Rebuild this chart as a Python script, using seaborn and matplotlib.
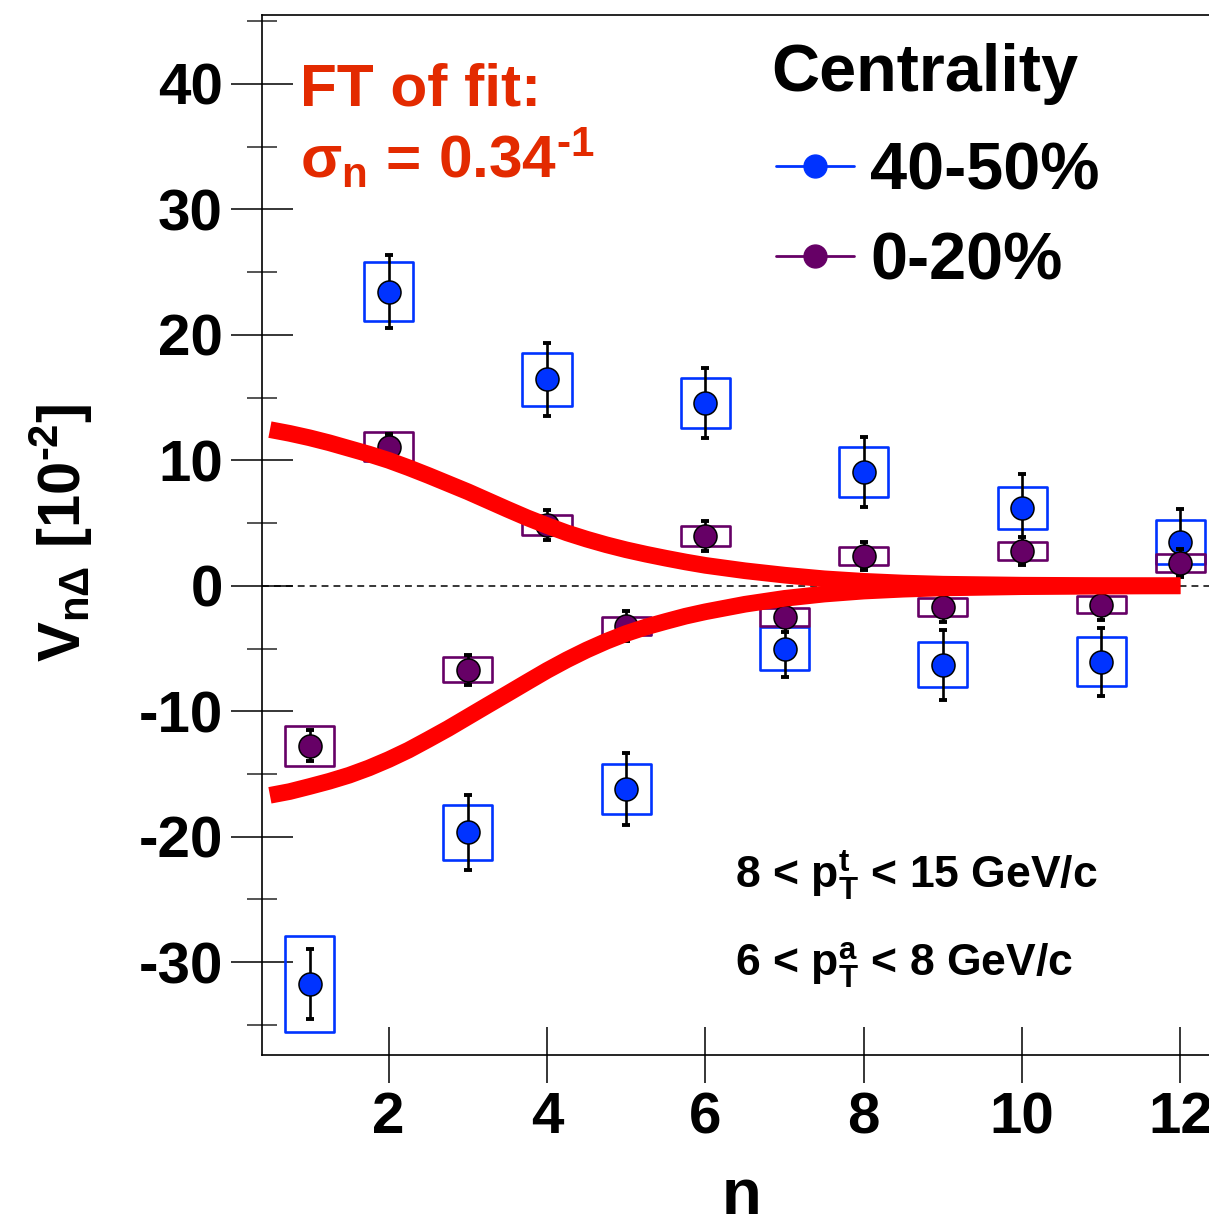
import matplotlib
matplotlib.use("Agg")
import matplotlib.pyplot as plt
import seaborn as sns
from matplotlib.patches import Rectangle
from matplotlib.lines import Line2D
from matplotlib.ticker import FixedLocator

# ---------------- data ----------------
n_values = [1, 2, 3, 4, 5, 6, 7, 8, 9, 10, 11, 12]

v_40_50 = [-31.75, 23.45, -19.66, 16.46, -16.2, 14.56, -5.0, 9.06, -6.3, 6.2, -6.05, 3.5]
stat_40_50 = [2.8, 2.9, 3.0, 2.9, 2.9, 2.8, 2.3, 2.8, 2.8, 2.7, 2.7, 2.6]
sys_40_50 = [3.8, 2.35, 2.2, 2.1, 2.0, 2.0, 1.75, 2.0, 1.8, 1.7, 1.95, 1.75]

v_0_20 = [-12.75, 11.1, -6.7, 4.85, -3.2, 3.98, -2.5, 2.38, -1.67, 2.78, -1.5, 1.82]
stat_0_20 = [1.25, 1.0, 1.2, 1.2, 1.2, 1.2, 1.2, 1.15, 1.2, 1.15, 1.2, 1.15]
sys_0_20 = [1.6, 1.15, 1.0, 0.8, 0.75, 0.8, 0.7, 0.7, 0.7, 0.75, 0.7, 0.7]

fit_n = [0.5, 0.75, 1.0, 1.25, 1.5, 1.75, 2.0, 2.25, 2.5, 2.75, 3.0, 3.25, 3.5, 3.75,
         4.0, 4.25, 4.5, 4.75, 5.0, 5.25, 5.5, 5.75, 6.0, 6.5, 7.0, 7.5, 8.0, 8.5,
         9.0, 10.0, 11.0, 12.0]
fit_upper = [12.45, 12.15, 11.8, 11.4, 10.95, 10.5, 10.0, 9.42, 8.8, 8.15, 7.5, 6.8,
             6.1, 5.42, 4.8, 4.22, 3.72, 3.27, 2.87, 2.52, 2.2, 1.9, 1.63, 1.2, 0.85,
             0.56, 0.36, 0.22, 0.13, 0.05, 0.02, 0.0]
fit_lower = [-16.7, -16.4, -16.0, -15.58, -15.1, -14.52, -13.85, -13.1, -12.25, -11.38,
             -10.45, -9.52, -8.6, -7.67, -6.75, -5.9, -5.12, -4.42, -3.8, -3.28, -2.84,
             -2.42, -2.07, -1.47, -1.0, -0.66, -0.42, -0.27, -0.17, -0.07, -0.03, 0.0]

x_ticks = [2, 4, 6, 8, 10, 12]
y_ticks = [-30, -20, -10, 0, 10, 20, 30, 40]
y_minor = [-35, -25, -15, -5, 5, 15, 25, 35, 45]

series_labels = ["40-50%", "0-20%"]
blue = "#0033ff"
purple = "#660066"
red_line = "#ff0000"
red_text = "#e32a00"
HY = "\u2010"  # short hyphen used in exponents

# ---------------- style ----------------
sns.set_theme(style="ticks")
plt.rcParams["font.family"] = ["Liberation Sans", "DejaVu Sans"]
plt.rcParams.update({
    "font.weight": "bold",
    "axes.unicode_minus": False,
    "mathtext.fontset": "custom",
    "mathtext.rm": "Liberation Sans:bold",
    "mathtext.it": "Liberation Sans:bold",
    "mathtext.bf": "Liberation Sans:bold",
    "mathtext.sf": "Liberation Sans:bold",
})

W, H = 1209, 1220
fig = plt.figure(figsize=(W / 100, H / 100), dpi=100)
fig.patch.set_facecolor("white")
ax = fig.add_axes([262 / W, 165 / H, 958 / W, 1040 / H])
ax.set_facecolor("white")

ax.set_xlim(0.4, 12.5)
ax.set_ylim(-37.4, 45.5)

# zero line
ax.axhline(0, color="black", lw=1.1, ls=(0, (4.5, 3.3)), zorder=1)

# systematic boxes + stat errors + markers
hw = 0.31
for vals, st, sy, col, z in [(v_40_50, stat_40_50, sys_40_50, blue, 2),
                             (v_0_20, stat_0_20, sys_0_20, purple, 5)]:
    for n, v, s in zip(n_values, vals, sy):
        ax.add_patch(Rectangle((n - hw, v - s), 2 * hw, 2 * s, fill=False,
                               edgecolor=col, lw=1.9, joinstyle="round", zorder=z))
    ax.errorbar(n_values, vals, yerr=st, fmt="none", ecolor="black",
                elinewidth=1.9, capsize=2.6, capthick=2.8, zorder=z + 0.5)
    sns.scatterplot(x=n_values, y=vals, s=275, color=col, edgecolor="black",
                    linewidth=1.1, zorder=z + 1, ax=ax, legend=False)

# FT of fit curves
for curve in (fit_upper, fit_lower):
    sns.lineplot(x=fit_n, y=curve, color=red_line, lw=12, ax=ax, zorder=10,
                 solid_capstyle="butt", solid_joinstyle="round", sort=False)

# axes styling
for side in ["left", "bottom", "top", "right"]:
    ax.spines[side].set_visible(True)
    ax.spines[side].set_color("black")
    ax.spines[side].set_linewidth(1.2)
ax.xaxis.set_major_locator(FixedLocator(x_ticks))
ax.yaxis.set_major_locator(FixedLocator(y_ticks))
ax.yaxis.set_minor_locator(FixedLocator(y_minor))
ax.set_xticklabels([str(t) for t in x_ticks])
ax.set_yticklabels([str(t) for t in y_ticks])
ax.tick_params(axis="x", which="major", direction="inout", length=41, width=1.1,
               pad=5.5, labelsize=42, colors="black", top=False)
ax.tick_params(axis="y", which="major", direction="inout", length=44.6, width=1.1,
               pad=5.8, labelsize=42, colors="black", right=False)
ax.tick_params(axis="y", which="minor", direction="inout", length=22.3, width=1.1,
               right=False, left=True)
for lab in ax.get_xticklabels() + ax.get_yticklabels():
    lab.set_fontweight("bold")

ax.set_xlabel("n", fontsize=47, fontweight="bold", color="black")
ax.xaxis.set_label_coords(0.5, -0.108)
ax.set_ylabel(r"V$_{\mathregular{n\Delta}}$ [10$^{\mathregular{" + HY + "2}}$]", fontsize=43,
              fontweight="bold", color="black", va="center")
ax.yaxis.set_label_coords((61 - 262) / 958, 0.502)

# legend
handles = [Line2D([], [], color=blue, lw=2, marker="o", markersize=16.5,
                  markerfacecolor=blue, markeredgecolor=blue),
           Line2D([], [], color=purple, lw=2, marker="o", markersize=16.5,
                  markerfacecolor=purple, markeredgecolor=purple)]
leg = ax.legend(handles, series_labels, loc="upper left",
                bbox_to_anchor=(776 / W, 1 - 141 / H), bbox_transform=fig.transFigure,
                frameon=False, borderpad=0, borderaxespad=0, handlelength=1.17,
                handletextpad=0.24, labelspacing=0.42,
                prop={"size": 48, "weight": "bold", "family": "Liberation Sans"})
for t in leg.get_texts():
    t.set_color("black")
fig.text(771 / W, 1 - 91 / H, "Centrality", fontsize=48, fontweight="bold",
         color="black", va="baseline", ha="left")

# annotations
fig.text(300 / W, 1 - 105 / H, "FT of fit:", fontsize=43.5, fontweight="bold",
         color=red_text, va="baseline", ha="left")
fig.text(300 / W, 1 - 178 / H,
         r"σ$_{\mathregular{n}}$ = 0.34$^{\mathregular{" + HY + "1}}$",
         fontsize=43.5, fontweight="bold", color=red_text, va="baseline", ha="left")
fig.text(735 / W, 1 - 888 / H, r"8 < p$^{\mathregular{t}}_{\mathregular{T}}$ < 15 GeV/c",
         fontsize=32, fontweight="bold", color="black", va="baseline", ha="left")
fig.text(735 / W, 1 - 976 / H, r"6 < p$^{\mathregular{a}}_{\mathregular{T}}$ < 8 GeV/c",
         fontsize=32, fontweight="bold", color="black", va="baseline", ha="left")

fig.savefig("out.png", dpi=100, facecolor="white")
